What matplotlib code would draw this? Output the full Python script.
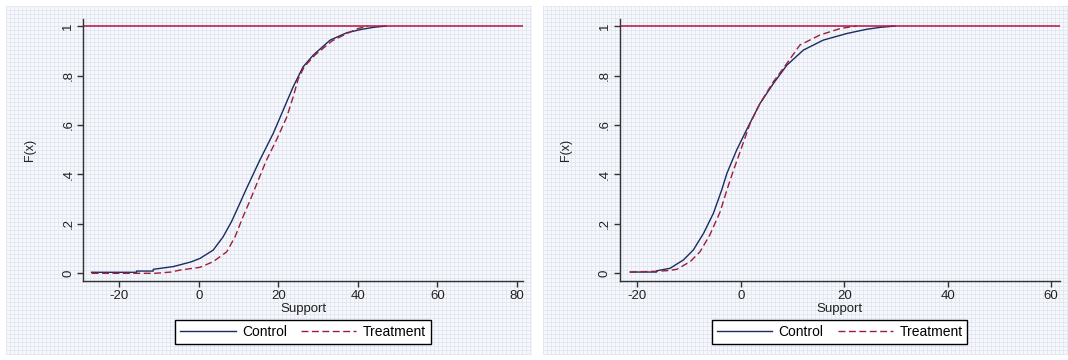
import numpy as np
import matplotlib
matplotlib.use("Agg")
import matplotlib.pyplot as plt

plt.rcParams['font.family'] = ['Liberation Sans', 'DejaVu Sans']
plt.rcParams['axes.unicode_minus'] = False

left_ctrl_x = [-27, -15.7, -15.7, -11.5, -11.5, -6.5, -4.8, -2.0, 0.25, 3.6, 6.1, 8.2, 10.3, 11.8, 15.3,
               18.7, 21.2, 23.7, 26.2, 28.8, 33.0, 37.2, 41.0, 44.0, 47.0]
left_ctrl_f = [0.004, 0.004, 0.009, 0.009, 0.016, 0.027, 0.034, 0.046, 0.06, 0.094, 0.148, 0.209, 0.283, 0.337, 0.457,
               0.566, 0.66, 0.754, 0.835, 0.883, 0.943, 0.973, 0.987, 0.995, 1.0]
left_treat_x = [-27, -11, -7, -4.8, 0.25, 3.6, 7.0, 9.1, 11.1, 13.0, 14.5, 17.0, 19.5, 22.1,
                23.7, 25.0, 26.5, 29.2, 33.5, 37.5, 40.0, 42.5]
left_treat_f = [0.0, 0.0, 0.005, 0.013, 0.024, 0.047, 0.087, 0.148, 0.229, 0.3, 0.36, 0.458, 0.539, 0.632,
                0.713, 0.787, 0.835, 0.883, 0.94, 0.972, 0.99, 1.0]

right_ctrl_x = [-21.4, -16.3, -16.3, -13.7, -11.1, -9.2, -7.2, -5.3, -3.7, -2.7, -0.8, 1.1, 3.7,
                6.3, 8.9, 12.1, 15.9, 20.5, 24.3, 27.0, 29.8]
right_ctrl_f = [0.005, 0.005, 0.01, 0.02, 0.054, 0.094, 0.162, 0.243, 0.337, 0.404, 0.499, 0.58, 0.687,
                0.768, 0.842, 0.903, 0.943, 0.97, 0.987, 0.995, 1.0]
right_treat_x = [-21.4, -16.3, -14.0, -12.4, -9.8, -7.9, -6.0, -4.0, -2.7, -1.4, 0.2, 1.8, 3.7, 6.3, 8.9,
                 11.4, 15.3, 19.2, 21.0, 22.4]
right_treat_f = [0.005, 0.008, 0.011, 0.016, 0.047, 0.087, 0.155, 0.249, 0.337, 0.418, 0.512, 0.607, 0.687, 0.775,
                 0.849, 0.923, 0.964, 0.99, 0.996, 1.0]

y_ticks = [0, 0.2, 0.4, 0.6, 0.8, 1]
y_labels = ['0', '.2', '.4', '.6', '.8', '1']

W, H = 1068, 360
fig = plt.figure(figsize=(W / 100, H / 100), dpi=100)
fig.patch.set_facecolor('white')


def texture(w, h):
    tex = np.ones((h, w, 3)) * np.array([247, 248, 252]) / 255
    line = np.array([226, 231, 241]) / 255
    tex[::4, :, :] = line
    tex[:, ::4, :] = line
    return tex


def panel(bg_rect, ax_rect, cx, cf, tx, tf, xlim, xticks):
    x0, y0, x1, y1 = bg_rect
    bg = fig.add_axes([x0 / W, 1 - y1 / H, (x1 - x0) / W, (y1 - y0) / H])
    bg.imshow(texture(x1 - x0, y1 - y0), aspect='auto', interpolation='nearest')
    bg.axis('off')

    a0, b0, a1, b1 = ax_rect
    ax = fig.add_axes([a0 / W, 1 - b1 / H, (a1 - a0) / W, (b1 - b0) / H])
    ax.set_facecolor('none')
    ax.plot(cx, cf, color='#1c2b5e', lw=1.0, label='Control')
    ax.plot(tx, tf, color='#9a1f3c', lw=1.0, dashes=(5, 2.5), label='Treatment')
    ax.axhline(1, color='#b8123e', lw=1.1)
    ax.set_xlim(*xlim)
    ax.set_ylim(-0.030, 1.027)
    ax.set_xticks(xticks)
    ax.set_yticks(y_ticks)
    ax.set_yticklabels(y_labels, rotation=90, va='center')
    for s in ['top', 'right']:
        ax.spines[s].set_visible(False)
    for s in ['left', 'bottom']:
        ax.spines[s].set_color('#333333')
        ax.spines[s].set_linewidth(1.0)
    ax.tick_params(direction='out', length=4, width=1.0, color='#333333',
                   labelsize=9.5, pad=2.5, labelcolor='#222222')
    ax.set_ylabel('F(x)', fontsize=9, color='#222222')
    ax.yaxis.set_label_coords(-0.108, 0.5)
    ax.set_xlabel('Support', fontsize=9.5, color='#222222')
    ax.xaxis.set_label_coords(0.5, -0.086)
    leg = ax.legend(loc='center', bbox_to_anchor=(0.5, -0.197), ncol=2, fontsize=10,
                    frameon=True, fancybox=False, edgecolor='black', facecolor='white',
                    framealpha=1, handlelength=4.0, handletextpad=0.45, columnspacing=1.0,
                    borderpad=0.35, borderaxespad=0)
    leg.get_frame().set_linewidth(1.0)
    return ax


panel((6, 6, 532, 355), (83.3, 19.4, 522.8, 280.7), left_ctrl_x, left_ctrl_f, left_treat_x, left_treat_f,
      (-29.1, 81.5), [-20, 0, 20, 40, 60, 80])
panel((543, 6, 1068, 355), (619.8, 19.4, 1059.5, 280.7), right_ctrl_x, right_ctrl_f, right_treat_x, right_treat_f,
      (-23.4, 61.6), [-20, 0, 20, 40, 60])

fig.savefig('out.png', dpi=100)
